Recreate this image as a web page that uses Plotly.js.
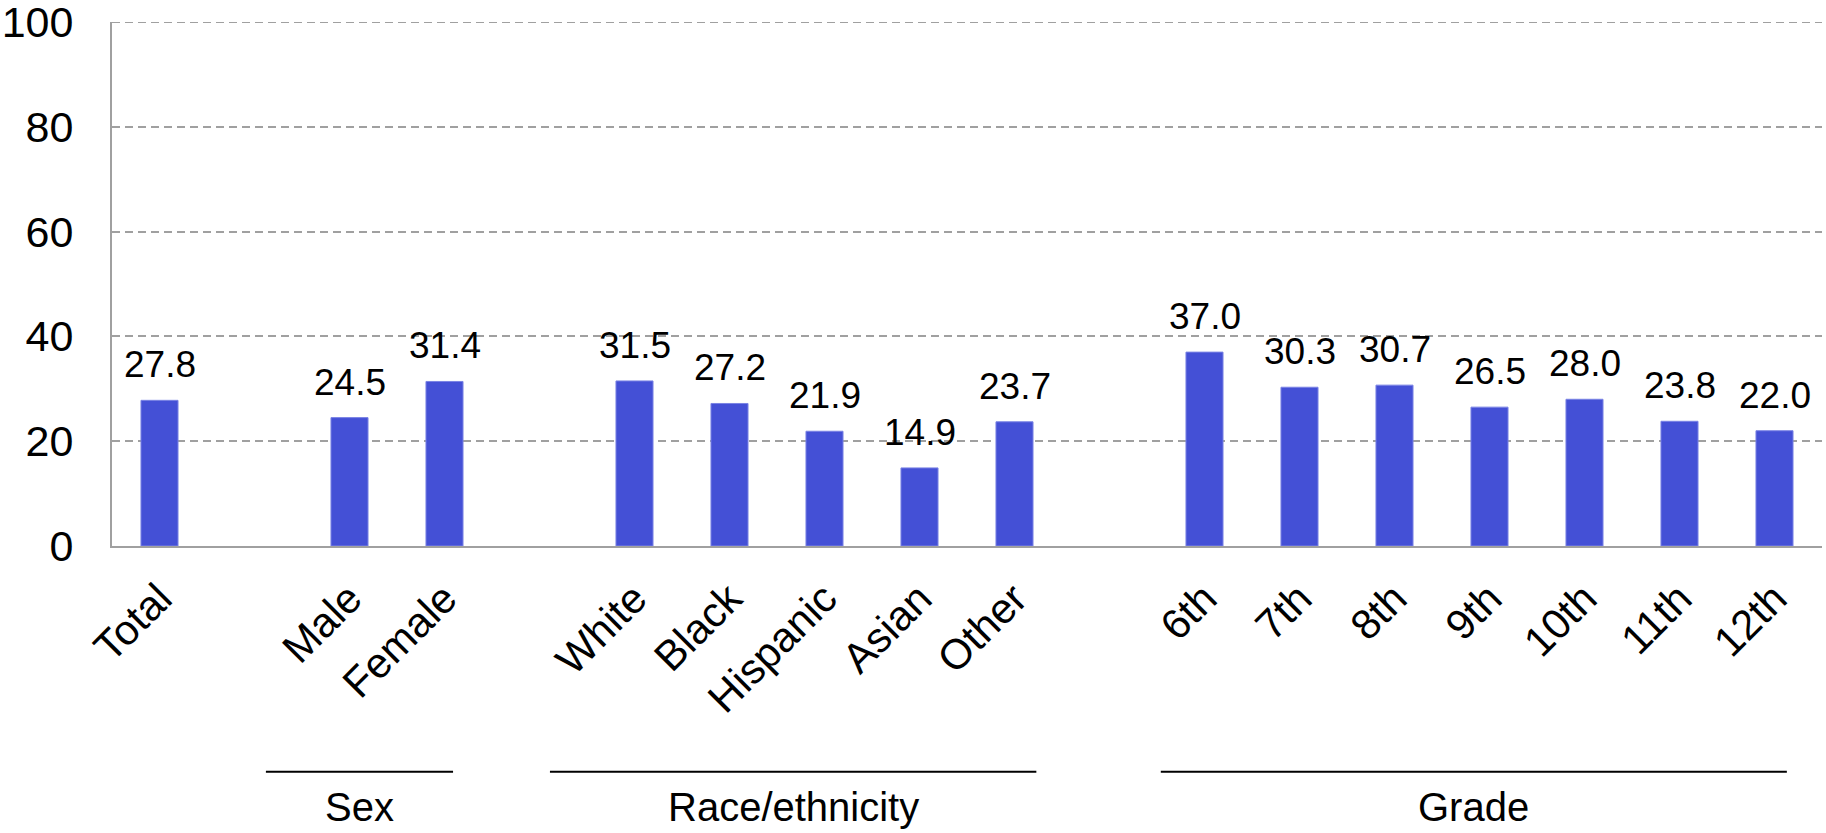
<!DOCTYPE html>
<html>
<head>
<meta charset="utf-8">
<script src="https://cdn.plot.ly/plotly-3.0.1.min.js"></script>
<style>
  html, body { margin: 0; padding: 0; background: #ffffff; }
  #chart { width: 1826px; height: 833px; }
</style>
</head>
<body>
<div id="chart"></div>
<script>
// ---- data ----
const categories = ["Total", "Male", "Female", "White", "Black", "Hispanic", "Asian", "Other",
                    "6th", "7th", "8th", "9th", "10th", "11th", "12th"];
const values = [27.8, 24.5, 31.4, 31.5, 27.2, 21.9, 14.9, 23.7,
                37.0, 30.3, 30.7, 26.5, 28.0, 23.8, 22.0];
const groupNames = ["Sex", "Race/ethnicity", "Grade"];
const groupMembers = [["Male", "Female"],
                      ["White", "Black", "Hispanic", "Asian", "Other"],
                      ["6th", "7th", "8th", "9th", "10th", "11th", "12th"]];
const yTicks = [0, 20, 40, 60, 80, 100];

// category order with blank spacer slots between groups
const slotOrder = ["Total", "\u200b"].concat(groupMembers[0], ["\u200b\u200b"], groupMembers[1], ["\u200b\u200b\u200b"], groupMembers[2]);

const FONT = "Liberation Sans, Arial, Helvetica, sans-serif";

const trace = {
  type: "bar",
  x: categories,
  y: values,
  width: 0.39,
  marker: { color: "#4450D6", line: { color: "#7A83E4", width: 1 } },
  hoverinfo: "x+y"
};

// value labels
const annotations = categories.map((c, i) => ({
  x: c, y: values[i], xref: "x", yref: "y",
  text: values[i].toFixed(1),
  showarrow: false, yanchor: "bottom", yshift: 13,
  font: { family: FONT, size: 37, color: "#000000" }
}));

// group bracket lines & labels (extents in category-index units)
const groupExtents = [[1.12, 3.09], [4.11, 9.23], [10.54, 17.13]];
const shapes = [];
groupNames.forEach((g, k) => {
  const ext = groupExtents[k];
  shapes.push({ type: "line", xref: "x", yref: "paper", x0: ext[0], x1: ext[1], y0: -0.431, y1: -0.431,
                line: { color: "#000000", width: 2 } });
  annotations.push({ x: (ext[0] + ext[1]) / 2, y: -0.498, xref: "x", yref: "paper",
                     text: g, showarrow: false, yanchor: "middle", xanchor: "center",
                     font: { family: FONT, size: 40, color: "#000000" } });
});
// top gridline (at the range edge) drawn explicitly
shapes.push({ type: "line", xref: "paper", yref: "y", x0: 0, x1: 1, y0: yTicks[yTicks.length - 1], y1: yTicks[yTicks.length - 1],
              line: { color: "#A0A0A0", width: 2, dash: "8px,5px" }, layer: "below" });

const layout = {
  width: 1826, height: 833,
  margin: { l: 112, r: 4, t: 21.5, b: 286.5, pad: 0 },
  paper_bgcolor: "#ffffff", plot_bgcolor: "#ffffff",
  showlegend: false,
  font: { family: FONT, color: "#000000" },
  xaxis: {
    type: "category",
    categoryorder: "array", categoryarray: slotOrder,
    range: [-0.5, slotOrder.length - 0.5],
    tickmode: "array", tickvals: categories, ticktext: categories,
    tickangle: -45,
    tickfont: { family: FONT, size: 42, color: "#000000" },
    ticks: "", ticklabelstandoff: 9,
    showline: true, linecolor: "#A0A0A0", linewidth: 2,
    showgrid: false, zeroline: false, fixedrange: true
  },
  yaxis: {
    range: [0, 100],
    tickmode: "array", tickvals: yTicks,
    tickfont: { family: FONT, size: 43, color: "#000000" },
    ticks: "", ticklabelstandoff: 28, ticklabeloverflow: "allow",
    showline: true, linecolor: "#A0A0A0", linewidth: 2,
    showgrid: true, gridcolor: "#A0A0A0", gridwidth: 2, griddash: "8px,5px",
    zeroline: false, fixedrange: true
  },
  annotations: annotations,
  shapes: shapes
};

Plotly.newPlot("chart", [trace], layout, { displayModeBar: false, staticPlot: true });
</script>
</body>
</html>
